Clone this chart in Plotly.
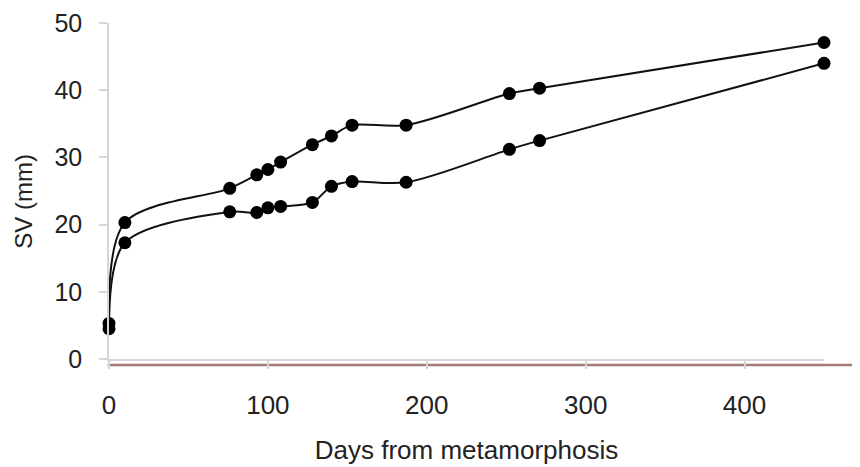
import plotly.graph_objects as go

days = [0, 10, 76, 93, 100, 108, 128, 140, 153, 187, 252, 271, 450]
sv_upper = [5.3, 20.3, 25.4, 27.4, 28.2, 29.3, 31.9, 33.2, 34.8, 34.8, 39.5, 40.3, 47.1]
sv_lower = [4.5, 17.3, 21.9, 21.8, 22.5, 22.7, 23.3, 25.7, 26.4, 26.3, 31.2, 32.5, 44.0]

x_ticks = [0, 100, 200, 300, 400]
y_ticks = [0, 10, 20, 30, 40, 50]

FONT = "Liberation Sans, Arial, sans-serif"

fig = go.Figure()
for name, vals in [("upper", sv_upper), ("lower", sv_lower)]:
    fig.add_trace(go.Scatter(
        x=days, y=vals, name=name, mode="lines+markers",
        line=dict(color="#111111", width=2, shape="spline", smoothing=0.9),
        marker=dict(color="#000000", size=13),
        cliponaxis=False, showlegend=False,
    ))

fig.add_shape(type="line", xref="paper", yref="paper",
              x0=-0.002, x1=1.06, y0=-0.018, y1=-0.018,
              line=dict(color="#a27b78", width=2.5), layer="below")

fig.add_annotation(text="SV (mm)", textangle=-90, showarrow=False,
                   xref="paper", yref="paper", x=-86 / 712, y=0.47,
                   xanchor="center", yanchor="middle",
                   font=dict(size=24, family=FONT, color="#222222"))

fig.update_layout(
    width=860, height=467,
    margin=dict(l=101, r=44, t=15, b=116),
    paper_bgcolor="white", plot_bgcolor="white",
    font=dict(family=FONT, color="#222222", size=25),
    xaxis=dict(
        range=[0, 450], tickvals=x_ticks, showgrid=False, zeroline=False,
        showline=True, linecolor="#d6d6d6", linewidth=1.5,
        ticks="outside", ticklen=8, tickcolor="#d6d6d6", tickwidth=1.5,
        ticklabelstandoff=14, automargin=False, ticklabeloverflow="allow",
        title=dict(text="Days from metamorphosis", standoff=22,
                   font=dict(size=26, family=FONT)),
        tickfont=dict(size=26, family=FONT),
    ),
    yaxis=dict(
        range=[0, 50], tickvals=y_ticks, showgrid=False, zeroline=False,
        showline=True, linecolor="#d6d6d6", linewidth=1.5,
        ticks="outside", ticklen=8, tickcolor="#d6d6d6", tickwidth=1.5,
        ticklabelstandoff=12, automargin=False, ticklabeloverflow="allow",
        tickfont=dict(size=25, family=FONT),
    ),
)

fig.write_html("out.html")
